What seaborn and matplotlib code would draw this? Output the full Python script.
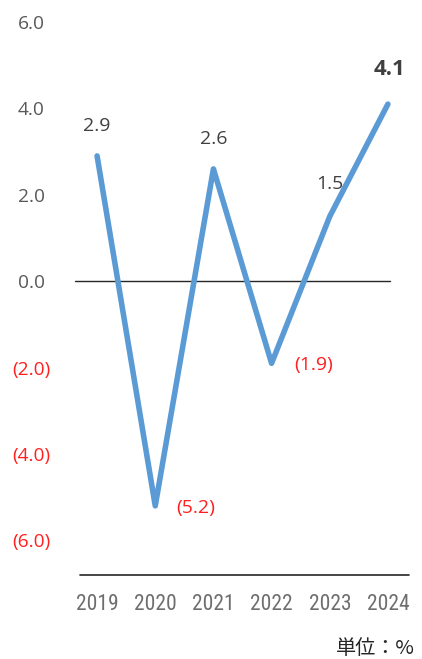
import matplotlib
matplotlib.use("Agg")
import matplotlib.pyplot as plt
import seaborn as sns
import pandas as pd
import numpy as np

# Annual growth rate, %
years = ["2019", "2020", "2021", "2022", "2023", "2024"]
growth = [2.9, -5.2, 2.6, -1.9, 1.5, 4.1]
y_ticks = [6.0, 4.0, 2.0, 0.0, -2.0, -4.0, -6.0]
unit_label = "単位：%"

sns.set_theme(style="white")
plt.rcParams["font.family"] = ["Open Sans", "Noto Sans CJK JP", "DejaVu Sans"]

W, H = 422, 659
fig = plt.figure(figsize=(W / 100, H / 100), dpi=100)
ax = fig.add_axes([68 / W, (H - 575) / H, 349 / W, (575 - 22) / H])

df = pd.DataFrame({"pos": np.arange(len(years)), "year": years, "growth": growth})

sns.lineplot(data=df, x="pos", y="growth", ax=ax, color="#5B9BD5",
             linewidth=4.0, solid_capstyle="round", solid_joinstyle="round")

ax.set_xlim(-0.5, len(years) - 0.5)
ax.set_ylim(-6.8, 6.0)
ax.set_xlabel("")
ax.set_ylabel("")
for s in ax.spines.values():
    s.set_visible(False)

# zero line and base line
ax.axhline(0, xmin=0.02, xmax=0.923, color="#262626", lw=1.0, zorder=1)
ax.axhline(-6.8, xmin=0.034, xmax=0.977, color="#262626", lw=1.2, zorder=1, clip_on=False)


def fmt(v):
    return f"({abs(v):.1f})" if v < 0 else f"{v:.1f}"


ax.set_yticks(y_ticks)
ax.set_yticklabels([fmt(v) for v in y_ticks])
ax.tick_params(axis="y", length=0, pad=26.6, labelsize=13.8)
for lbl, v in zip(ax.get_yticklabels(), y_ticks):
    lbl.set_horizontalalignment("center")
    lbl.set_color("#FF2020" if v < 0 else "#595959")

ax.set_xticks(df["pos"])
ax.set_xticklabels(years)
ax.tick_params(axis="x", length=0, pad=13.5)
for lbl in ax.get_xticklabels():
    lbl.set_fontfamily(["Roboto Condensed", "Open Sans Condensed",
                        "Liberation Sans Narrow", "DejaVu Sans"])
    lbl.set_fontstretch("condensed")
    lbl.set_fontsize(15.5)
    lbl.set_color("#6E6E6E")

# value labels
offsets = {
    0: (0, 21.6),
    1: (29, -1.5),
    2: (0, 21.6),
    3: (30, -1.5),
    4: (0, 23.5),
    5: (1.5, 25),
}
for i, v in enumerate(growth):
    dx, dy = offsets[i]
    is_last = i == len(growth) - 1
    ax.annotate(fmt(v), (i, v), xytext=(dx, dy), textcoords="offset points",
                ha="center", va="center",
                fontsize=16 if is_last else 14,
                fontweight="bold" if is_last else "normal",
                color="#FF2020" if v < 0 else "#404040")

fig.text(415 / W, 1 - 648 / H, unit_label, ha="right", va="center",
         fontsize=14.5, color="#262626",
         family=["Noto Sans CJK JP", "DejaVu Sans"])

fig.savefig("out.png", dpi=100, facecolor="white")
